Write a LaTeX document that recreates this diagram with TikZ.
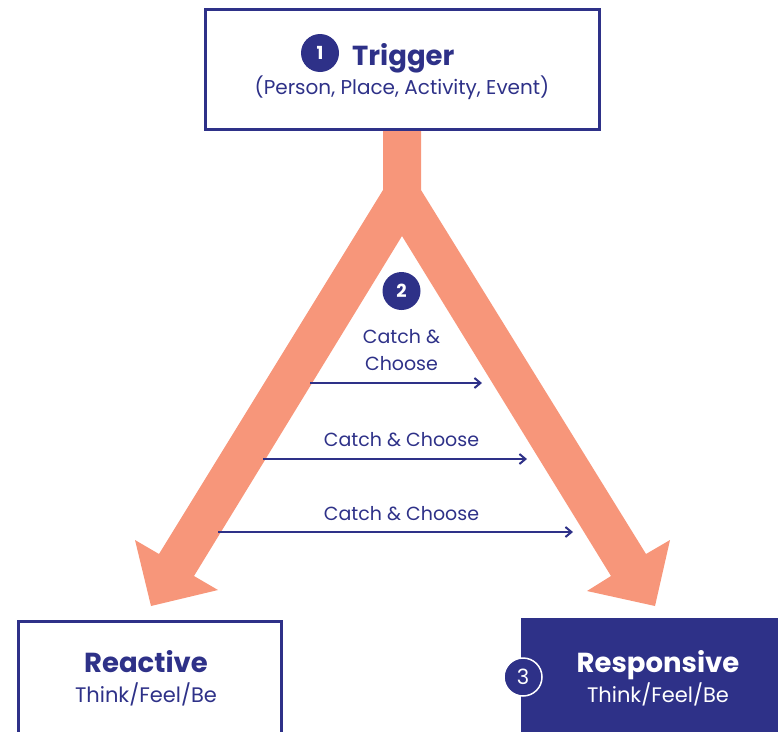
\documentclass[tikz,border=0pt]{standalone}
\usepackage{fontspec}
\setmainfont{Poppins}
\usetikzlibrary{arrows.meta}
\definecolor{navy}{HTML}{2E3188}
\definecolor{salmon}{HTML}{F7967A}
\begin{document}
\begin{tikzpicture}[x=1pt,y=-1pt,
  title/.style={font=\fontsize{27.5}{32}\selectfont\bfseries, text=navy, inner sep=0pt},
  sub/.style={font=\fontsize{20}{24}\selectfont, text=navy, inner sep=0pt},
  tfb/.style={font=\fontsize{21}{24}\selectfont, text=navy, inner sep=0pt},
  label/.style={font=\fontsize{19}{22}\selectfont, text=navy, inner sep=0pt},
  num/.style={circle, fill=navy, minimum size=38pt, inner sep=0pt, text=white,
              font=\fontsize{18}{20}\selectfont\bfseries},
  flow/.style={navy, line width=2pt, -{Straight Barb[length=6pt, width=10pt]}},
  frame/.style={draw=navy, line width=3pt, inner sep=0pt}]
\useasboundingbox (0,0) rectangle (778,731);
\clip (0,0) rectangle (778,731);

% the forked arrow
\coordinate (stemL) at (383,130);
\coordinate (stemR) at (421,130);
\coordinate (forkL) at (383,190);
\coordinate (forkR) at (421,190);
\coordinate (apex) at (402,236);
\coordinate (lefttip) at (151,606);
\coordinate (righttip) at (655,606);
\fill[salmon] (stemL) -- (forkL) -- (159,554) -- (135,540) -- (lefttip) -- (218,590)
  -- (194,576) -- (apex) -- (611,576) -- (587,591) -- (righttip) -- (670,540)
  -- (646,554) -- (forkR) -- (stemR) -- cycle;

% trigger box
\node[frame, minimum width=394pt, minimum height=120.5pt] (trigger) at (402,69.25) {};
\node[num] (n1) at (320,53) {1};
\node[title, anchor=base west] (triggertitle) at (352,65) {Trigger};
\node[sub, anchor=base] (triggersub) at (402,94) {(Person, Place, Activity, Event)};

% catch & choose steps
\node[num] (n2) at (401.5,291) {2};
\node[label, anchor=base] (cc1a) at (401.5,343) {Catch \&};
\node[label, anchor=base] (cc1b) at (401.5,370) {Choose};
\node[label, anchor=base] (cc2) at (401.5,446) {Catch \& Choose};
\node[label, anchor=base] (cc3) at (401.5,520) {Catch \& Choose};
\coordinate (a1s) at (310,383); \coordinate (a1e) at (482,383);
\coordinate (a2s) at (263,459); \coordinate (a2e) at (527,459);
\coordinate (a3s) at (218,532); \coordinate (a3e) at (573,532);
\draw[flow] (a1s) -- (a1e);
\draw[flow] (a2s) -- (a2e);
\draw[flow] (a3s) -- (a3e);

% outcome boxes
\node[frame, minimum width=263.5pt, minimum height=140pt, anchor=north west] (reactive) at (16.5,620) {};
\node[title, anchor=base] (reactivetitle) at (146,672) {Reactive};
\node[tfb, anchor=base] (reactivesub) at (146,702) {Think/Feel/Be};

\node[fill=navy, inner sep=0pt, minimum width=280pt, minimum height=140pt, anchor=north west] (responsive) at (521,618) {};
\node[title, text=white, anchor=base] (responsivetitle) at (658,672) {Responsive};
\node[tfb, text=white, anchor=base] (responsivesub) at (658,702) {Think/Feel/Be};
\node[num, draw=white, line width=1.5pt, font=\fontsize{21}{24}\selectfont] (n3) at (523,677) {3};
\end{tikzpicture}
\end{document}
